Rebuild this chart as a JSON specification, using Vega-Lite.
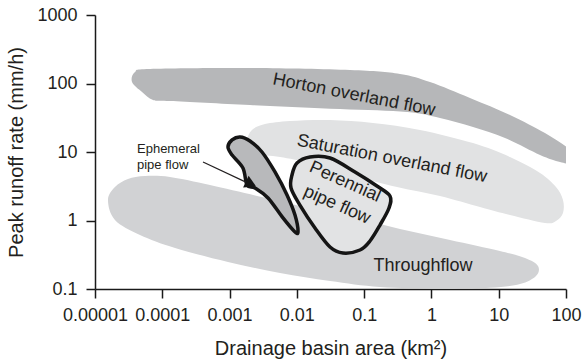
{
  "$schema": "https://vega.github.io/schema/vega-lite/v6.json",
  "width": 471,
  "height": 274,
  "autosize": {"type": "none"},
  "padding": {"left": 95, "top": 15, "right": 17, "bottom": 75},
  "background": "white",
  "config": {
    "view": {"stroke": null},
    "font": "Liberation Sans",
    "axis": {
      "grid": false,
      "domainColor": "#1a1a1a",
      "domainWidth": 1.5,
      "tickColor": "#1a1a1a",
      "tickWidth": 1.5,
      "tickSize": 9,
      "labelFont": "Liberation Sans",
      "labelFontSize": 18,
      "labelColor": "#231f20",
      "titleFont": "Liberation Sans",
      "titleFontSize": 20,
      "titleFontWeight": "normal",
      "titleColor": "#231f20"
    }
  },
  "datasets": {
    "regions": [
      {"shape": "horton", "i": 1, "area": 3.93e-5, "rate": 147},
      {"shape": "horton", "i": 2, "area": 6.57e-5, "rate": 163},
      {"shape": "horton", "i": 3, "area": 0.00201, "rate": 168},
      {"shape": "horton", "i": 4, "area": 0.0616, "rate": 157},
      {"shape": "horton", "i": 5, "area": 0.341, "rate": 138},
      {"shape": "horton", "i": 6, "area": 0.952, "rate": 105},
      {"shape": "horton", "i": 7, "area": 3.74, "rate": 61.4},
      {"shape": "horton", "i": 8, "area": 14.7, "rate": 34.7},
      {"shape": "horton", "i": 9, "area": 48.7, "rate": 18.9},
      {"shape": "horton", "i": 10, "area": 107, "rate": 11.4},
      {"shape": "horton", "i": 11, "area": 136, "rate": 8.74},
      {"shape": "horton", "i": 12, "area": 115, "rate": 6.91},
      {"shape": "horton", "i": 13, "area": 81.4, "rate": 7.14},
      {"shape": "horton", "i": 14, "area": 41.1, "rate": 9.04},
      {"shape": "horton", "i": 15, "area": 12.4, "rate": 16.0},
      {"shape": "horton", "i": 16, "area": 4.15, "rate": 23.2},
      {"shape": "horton", "i": 17, "area": 1.34, "rate": 31.4},
      {"shape": "horton", "i": 18, "area": 0.434, "rate": 38.4},
      {"shape": "horton", "i": 19, "area": 0.0438, "rate": 42.4},
      {"shape": "horton", "i": 20, "area": 0.00201, "rate": 48.5},
      {"shape": "horton", "i": 21, "area": 0.00013, "rate": 55.5},
      {"shape": "horton", "i": 22, "area": 7.28e-5, "rate": 57.4},
      {"shape": "horton", "i": 23, "area": 5.0e-5, "rate": 75.1},
      {"shape": "horton", "i": 24, "area": 3.55e-5, "rate": 105},

      {"shape": "saturation", "i": 1, "area": 0.00182, "rate": 15.0},
      {"shape": "saturation", "i": 2, "area": 0.00215, "rate": 21.0},
      {"shape": "saturation", "i": 3, "area": 0.00336, "rate": 25.6},
      {"shape": "saturation", "i": 4, "area": 0.00791, "rate": 28.4},
      {"shape": "saturation", "i": 5, "area": 0.0311, "rate": 29.3},
      {"shape": "saturation", "i": 6, "area": 0.135, "rate": 26.5},
      {"shape": "saturation", "i": 7, "area": 0.676, "rate": 21.0},
      {"shape": "saturation", "i": 8, "area": 4.15, "rate": 13.5},
      {"shape": "saturation", "i": 9, "area": 14.7, "rate": 8.45},
      {"shape": "saturation", "i": 10, "area": 41.1, "rate": 4.94},
      {"shape": "saturation", "i": 11, "area": 71.0, "rate": 3.08},
      {"shape": "saturation", "i": 12, "area": 90.2, "rate": 1.99},
      {"shape": "saturation", "i": 13, "area": 90.2, "rate": 1.29},
      {"shape": "saturation", "i": 14, "area": 71.0, "rate": 0.983},
      {"shape": "saturation", "i": 15, "area": 48.7, "rate": 0.919},
      {"shape": "saturation", "i": 16, "area": 14.7, "rate": 1.2},
      {"shape": "saturation", "i": 17, "area": 5.27, "rate": 1.57},
      {"shape": "saturation", "i": 18, "area": 1.34, "rate": 2.28},
      {"shape": "saturation", "i": 19, "area": 0.308, "rate": 3.08},
      {"shape": "saturation", "i": 20, "area": 0.0616, "rate": 4.62},
      {"shape": "saturation", "i": 21, "area": 0.0157, "rate": 6.91},
      {"shape": "saturation", "i": 22, "area": 0.00562, "rate": 8.45},
      {"shape": "saturation", "i": 23, "area": 0.00239, "rate": 9.35},
      {"shape": "saturation", "i": 24, "area": 0.00188, "rate": 11.1},

      {"shape": "throughflow", "i": 1, "area": 1.56e-5, "rate": 1.99},
      {"shape": "throughflow", "i": 2, "area": 1.98e-5, "rate": 3.08},
      {"shape": "throughflow", "i": 3, "area": 3.09e-5, "rate": 4.04},
      {"shape": "throughflow", "i": 4, "area": 5.54e-5, "rate": 4.46},
      {"shape": "throughflow", "i": 5, "area": 0.00013, "rate": 4.32},
      {"shape": "throughflow", "i": 6, "area": 0.000512, "rate": 3.3},
      {"shape": "throughflow", "i": 7, "area": 0.00303, "rate": 2.2},
      {"shape": "throughflow", "i": 8, "area": 0.0111, "rate": 1.63},
      {"shape": "throughflow", "i": 9, "area": 0.0616, "rate": 1.13},
      {"shape": "throughflow", "i": 10, "area": 0.341, "rate": 0.751},
      {"shape": "throughflow", "i": 11, "area": 1.89, "rate": 0.519},
      {"shape": "throughflow", "i": 12, "area": 10.4, "rate": 0.359},
      {"shape": "throughflow", "i": 13, "area": 24.6, "rate": 0.284},
      {"shape": "throughflow", "i": 14, "area": 38.4, "rate": 0.217},
      {"shape": "throughflow", "i": 15, "area": 35.8, "rate": 0.155},
      {"shape": "throughflow", "i": 16, "area": 20.7, "rate": 0.118},
      {"shape": "throughflow", "i": 17, "area": 7.42, "rate": 0.104},
      {"shape": "throughflow", "i": 18, "area": 1.34, "rate": 0.101},
      {"shape": "throughflow", "i": 19, "area": 0.172, "rate": 0.107},
      {"shape": "throughflow", "i": 20, "area": 0.0311, "rate": 0.131},
      {"shape": "throughflow", "i": 21, "area": 0.00562, "rate": 0.171},
      {"shape": "throughflow", "i": 22, "area": 0.000947, "rate": 0.248},
      {"shape": "throughflow", "i": 23, "area": 0.000155, "rate": 0.397},
      {"shape": "throughflow", "i": 24, "area": 4.66e-5, "rate": 0.614},
      {"shape": "throughflow", "i": 25, "area": 1.98e-5, "rate": 1.02},

      {"shape": "ephemeral", "i": 1, "area": 0.000947, "rate": 11.8},
      {"shape": "ephemeral", "i": 2, "area": 0.00109, "rate": 15.0},
      {"shape": "ephemeral", "i": 3, "area": 0.00143, "rate": 16.6},
      {"shape": "ephemeral", "i": 4, "area": 0.00201, "rate": 14.5},
      {"shape": "ephemeral", "i": 5, "area": 0.00303, "rate": 10.0},
      {"shape": "ephemeral", "i": 6, "area": 0.00473, "rate": 5.11},
      {"shape": "ephemeral", "i": 7, "area": 0.00714, "rate": 2.36},
      {"shape": "ephemeral", "i": 8, "area": 0.00938, "rate": 1.2},
      {"shape": "ephemeral", "i": 9, "area": 0.0104, "rate": 0.679},
      {"shape": "ephemeral", "i": 10, "area": 0.00907, "rate": 0.703},
      {"shape": "ephemeral", "i": 11, "area": 0.00622, "rate": 1.09},
      {"shape": "ephemeral", "i": 12, "area": 0.00373, "rate": 2.13},
      {"shape": "ephemeral", "i": 13, "area": 0.00239, "rate": 2.98},
      {"shape": "ephemeral", "i": 14, "area": 0.00182, "rate": 3.3},
      {"shape": "ephemeral", "i": 15, "area": 0.00158, "rate": 5.84},
      {"shape": "ephemeral", "i": 16, "area": 0.00109, "rate": 9.04},

      {"shape": "perennial", "i": 1, "area": 0.00847, "rate": 4.62},
      {"shape": "perennial", "i": 2, "area": 0.01005, "rate": 6.91},
      {"shape": "perennial", "i": 3, "area": 0.0157, "rate": 8.45},
      {"shape": "perennial", "i": 4, "area": 0.0311, "rate": 8.17},
      {"shape": "perennial", "i": 5, "area": 0.0731, "rate": 5.11},
      {"shape": "perennial", "i": 6, "area": 0.155, "rate": 3.19},
      {"shape": "perennial", "i": 7, "area": 0.242, "rate": 2.28},
      {"shape": "perennial", "i": 8, "area": 0.234, "rate": 1.52},
      {"shape": "perennial", "i": 9, "area": 0.172, "rate": 0.859},
      {"shape": "perennial", "i": 10, "area": 0.122, "rate": 0.502},
      {"shape": "perennial", "i": 11, "area": 0.0868, "rate": 0.371},
      {"shape": "perennial", "i": 12, "area": 0.0485, "rate": 0.335},
      {"shape": "perennial", "i": 13, "area": 0.0311, "rate": 0.41},
      {"shape": "perennial", "i": 14, "area": 0.0186, "rate": 0.777},
      {"shape": "perennial", "i": 15, "area": 0.0111, "rate": 1.68},
      {"shape": "perennial", "i": 16, "area": 0.00819, "rate": 2.98}
    ],
    "arrow": [
      {"area": 0.000403, "rate": 7.14, "area2": 0.00195, "rate2": 3.45}
    ],
    "arrowhead": [
      {"area": 0.00208, "rate": 3.41}
    ],
    "labels": [
      {"label": "Horton overland flow", "area": 0.0707, "rate": 67.9},
      {"label": "Saturation overland flow", "area": 0.259, "rate": 7.9},
      {"label": "Perennial", "area": 0.0519, "rate": 3.65},
      {"label": "pipe flow", "area": 0.0395, "rate": 1.68},
      {"label": "Throughflow", "area": 0.75, "rate": 0.217},
      {"label": ["Ephemeral", "pipe flow"], "area": 4.21e-5, "rate": 11.1}
    ]
  },
  "data": {"name": "regions"},
  "encoding": {
    "x": {
      "field": "area",
      "type": "quantitative",
      "scale": {"type": "log", "domain": [0.00001, 100], "nice": false},
      "axis": {
        "values": [0.00001, 0.0001, 0.001, 0.01, 0.1, 1, 10, 100],
        "format": ".5~f",
        "labelPadding": 8,
        "labelOverlap": false,
        "labelFlush": false,
        "titlePadding": 14,
        "title": "Drainage basin area (km²)"
      }
    },
    "y": {
      "field": "rate",
      "type": "quantitative",
      "scale": {"type": "log", "domain": [0.1, 1000], "nice": false},
      "axis": {
        "values": [0.1, 1, 10, 100, 1000],
        "format": ".5~f",
        "labelPadding": 9,
        "labelOverlap": false,
        "labelFlush": false,
        "titlePadding": 10,
        "title": "Peak runoff rate (mm/h)"
      }
    }
  },
  "layer": [
    {
      "transform": [{"filter": "datum.shape === 'horton'"}],
      "mark": {"type": "line", "interpolate": "cardinal-closed", "fill": "#b6b7b9", "strokeOpacity": 0, "clip": true},
      "encoding": {"order": {"field": "i", "type": "quantitative"}}
    },
    {
      "transform": [{"filter": "datum.shape === 'saturation'"}],
      "mark": {"type": "line", "interpolate": "cardinal-closed", "fill": "#e1e2e3", "strokeOpacity": 0, "clip": true},
      "encoding": {"order": {"field": "i", "type": "quantitative"}}
    },
    {
      "transform": [{"filter": "datum.shape === 'throughflow'"}],
      "mark": {"type": "line", "interpolate": "cardinal-closed", "fill": "#d1d2d4", "strokeOpacity": 0, "clip": true},
      "encoding": {"order": {"field": "i", "type": "quantitative"}}
    },
    {
      "transform": [{"filter": "datum.shape === 'ephemeral'"}],
      "mark": {"type": "line", "interpolate": "cardinal-closed", "fill": "#b8b9bb", "stroke": "#151515", "strokeWidth": 3.5, "strokeJoin": "round"},
      "encoding": {"order": {"field": "i", "type": "quantitative"}}
    },
    {
      "transform": [{"filter": "datum.shape === 'perennial'"}],
      "mark": {"type": "line", "interpolate": "cardinal-closed", "fill": "#e2e3e4", "stroke": "#151515", "strokeWidth": 3.5, "strokeJoin": "round"},
      "encoding": {"order": {"field": "i", "type": "quantitative"}}
    },
    {
      "data": {"name": "arrow"},
      "mark": {"type": "rule", "color": "#231f20", "strokeWidth": 1.2},
      "encoding": {
        "x2": {"field": "area2"},
        "y2": {"field": "rate2"}
      }
    },
    {
      "data": {"name": "arrowhead"},
      "mark": {"type": "point", "shape": "triangle-right", "filled": true, "color": "#151515", "opacity": 1, "size": 170, "angle": 25}
    },
    {
      "data": {"name": "labels"},
      "transform": [{"filter": "datum.label === 'Horton overland flow' || datum.label === 'Saturation overland flow'"}],
      "mark": {"type": "text", "fontSize": 18, "color": "#231f20", "align": "center", "baseline": "middle", "angle": 11},
      "encoding": {"text": {"field": "label"}}
    },
    {
      "data": {"name": "labels"},
      "transform": [{"filter": "datum.label === 'Perennial' || datum.label === 'pipe flow'"}],
      "mark": {"type": "text", "fontSize": 18, "color": "#231f20", "align": "center", "baseline": "middle", "angle": 24},
      "encoding": {"text": {"field": "label"}}
    },
    {
      "data": {"name": "labels"},
      "transform": [{"filter": "datum.label === 'Throughflow'"}],
      "mark": {"type": "text", "fontSize": 18, "color": "#231f20", "align": "center", "baseline": "middle"},
      "encoding": {"text": {"field": "label"}}
    },
    {
      "data": {"name": "labels"},
      "transform": [{"filter": "isArray(datum.label)"}],
      "mark": {"type": "text", "fontSize": 13, "color": "#231f20", "align": "left", "baseline": "middle", "lineHeight": 16},
      "encoding": {"text": {"field": "label"}}
    }
  ]
}
